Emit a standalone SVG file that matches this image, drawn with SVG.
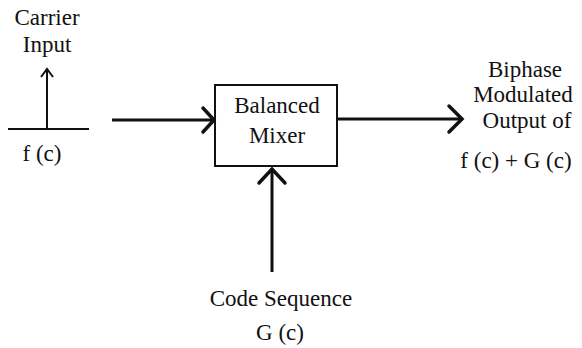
<svg xmlns="http://www.w3.org/2000/svg" width="582" height="348" viewBox="0 0 582 348">
<rect width="582" height="348" fill="#fff"/>
<g id="carrier">
<text x="47" y="25" font-family="Liberation Serif" font-size="23" text-anchor="middle" fill="#111">Carrier</text>
<text x="47" y="52" font-family="Liberation Serif" font-size="23" text-anchor="middle" fill="#111">Input</text>
<line x1="8" y1="129" x2="89" y2="129" stroke="#111" stroke-width="2"/>
<line x1="47" y1="70" x2="47" y2="129" stroke="#111" stroke-width="2"/>
<polyline points="41,77 47,69 53,77" fill="none" stroke="#111" stroke-width="2"/>
<text x="42" y="161" font-family="Liberation Serif" font-size="23" text-anchor="middle" fill="#111">f (c)</text>
</g>
<g id="mixer">
<rect x="215" y="85" width="122" height="81" fill="#fff" stroke="#111" stroke-width="2"/>
<text x="277" y="113" font-family="Liberation Serif" font-size="23" text-anchor="middle" fill="#111">Balanced</text>
<text x="277" y="143" font-family="Liberation Serif" font-size="23" text-anchor="middle" fill="#111">Mixer</text>
</g>
<g id="output">
<text x="525" y="77" font-family="Liberation Serif" font-size="23" text-anchor="middle" fill="#111">Biphase</text>
<text x="523" y="102" font-family="Liberation Serif" font-size="23" text-anchor="middle" fill="#111">Modulated</text>
<text x="527" y="128" font-family="Liberation Serif" font-size="23" text-anchor="middle" fill="#111">Output of</text>
<text x="516" y="168" font-family="Liberation Serif" font-size="23" text-anchor="middle" fill="#111">f (c) + G (c)</text>
</g>
<g id="code">
<text x="281" y="306" font-family="Liberation Serif" font-size="23" text-anchor="middle" fill="#111">Code Sequence</text>
<text x="280" y="340" font-family="Liberation Serif" font-size="23" text-anchor="middle" fill="#111">G (c)</text>
</g>
<g id="connectors" stroke="#111" fill="none">
<line stroke-width="3" x1="112" y1="120" x2="213" y2="120"/>
<polyline stroke-width="3.5" stroke-linecap="round" points="203,108 214,120 203,132"/>
<line stroke-width="3" x1="337" y1="119" x2="461" y2="119"/>
<polyline stroke-width="3.5" stroke-linecap="round" points="449,106 462,119 449,132"/>
<line stroke-width="3" x1="272" y1="272" x2="272" y2="168"/>
<polyline stroke-width="3.5" stroke-linecap="round" points="259,183 272,169 285,183"/>
</g>
</svg>
